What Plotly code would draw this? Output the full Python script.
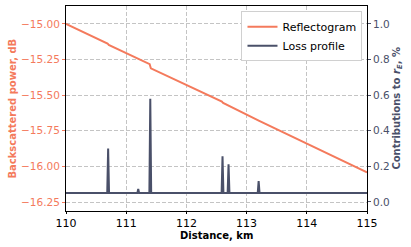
import plotly.graph_objects as go

# Reflectogram (backscattered power, dB) breakpoints
refl_km = [110.0, 110.69, 110.71, 111.39, 111.41, 112.59, 112.61, 112.69, 112.71, 113.19, 113.21, 115.0]
refl_db = [-15.000, -15.137, -15.147, -15.282, -15.312, -15.545, -15.555, -15.571, -15.580, -15.675, -15.680, -16.042]

# Loss profile (contributions to r_E, %)
loss_km = [110.0, 110.685, 110.70, 110.715, 111.185, 111.20, 111.215, 111.385, 111.40, 111.415,
           112.585, 112.60, 112.615, 112.685, 112.70, 112.715, 113.185, 113.20, 113.215, 115.0]
loss_pct = [0.05, 0.05, 0.30, 0.05, 0.05, 0.073, 0.05, 0.05, 0.58, 0.05,
            0.05, 0.257, 0.05, 0.05, 0.212, 0.05, 0.05, 0.118, 0.05, 0.05]

x_ticks = [110, 111, 112, 113, 114, 115]
left_ticks = [-15.00, -15.25, -15.50, -15.75, -16.00, -16.25]
right_ticks = [0.0, 0.2, 0.4, 0.6, 0.8, 1.0]

RED = "#f47a5c"
NAVY = "#4a5069"
FONT = "DejaVu Sans"
FS = 10
GRID = "#c4c4c4"

fig = go.Figure()
fig.add_trace(go.Scatter(x=refl_km, y=refl_db, mode="lines", name="Reflectogram",
                         line=dict(color=RED, width=2), yaxis="y"))
fig.add_trace(go.Scatter(x=loss_km, y=loss_pct, mode="lines", name="Loss profile",
                         line=dict(color=NAVY, width=2), yaxis="y2"))

fig.update_layout(
    width=411, height=247,
    margin=dict(l=66, r=44, t=6, b=36),
    paper_bgcolor="white", plot_bgcolor="white",
    font=dict(family=FONT, size=FS, color="black"),
    showlegend=True,
    legend=dict(x=0.985, y=0.974, xanchor="right", yanchor="top",
                bgcolor="white", bordercolor="#d0d0d0", borderwidth=1,
                font=dict(size=11, color="black"), tracegroupgap=0,
                itemwidth=30),
    xaxis=dict(range=[110, 115], tickvals=x_ticks, ticktext=[str(v) for v in x_ticks],
               showline=True, linecolor="black", linewidth=1, mirror=True,
               ticks="outside", ticklen=2, tickcolor="black",
               showgrid=True, gridcolor=GRID, griddash="4px,2px", gridwidth=1,
               zeroline=False, automargin=False,
               tickfont=dict(size=FS + 1, color="black")),
    yaxis=dict(range=[-16.313, -14.874], tickvals=left_ticks,
               ticktext=["\u2212%.2f" % abs(v) for v in left_ticks],
               showline=True, linecolor="black", linewidth=1,
               ticks="outside", ticklen=3, tickcolor=RED,
               showgrid=True, gridcolor=GRID, griddash="4px,2px", gridwidth=1,
               zeroline=False, automargin=False,
               tickfont=dict(size=FS + 0.5, color=RED)),
    yaxis2=dict(range=[-0.0506, 1.101], tickvals=right_ticks,
                ticktext=["%.1f" % v for v in right_ticks],
                overlaying="y", side="right",
                showline=True, linecolor="black", linewidth=1,
                ticks="outside", ticklen=3, tickcolor=NAVY,
                showgrid=False, zeroline=False, automargin=False,
                tickfont=dict(size=FS + 0.5, color=NAVY)),
    annotations=[
        dict(text="<b>Distance, km</b>", xref="paper", yref="paper", x=0.5, y=-0.118,
             xanchor="center", yanchor="middle", showarrow=False,
             font=dict(size=FS, color="black")),
        dict(text="<b>Backscattered power, dB</b>", xref="paper", yref="paper", x=-0.179, y=0.5,
             xanchor="center", yanchor="middle", showarrow=False, textangle=-90,
             font=dict(size=FS, color=RED)),
        dict(text="<b>Contributions to <i>r</i><sub><i>E</i></sub>, %</b>", xref="paper", yref="paper",
             x=1.1, y=0.5, xanchor="center", yanchor="middle", showarrow=False, textangle=-90,
             font=dict(size=FS, color=NAVY)),
    ],
)

fig.write_html("out.html", config={"displayModeBar": False},
               post_script="document.body.style.margin='0';document.body.style.overflow='hidden';")
